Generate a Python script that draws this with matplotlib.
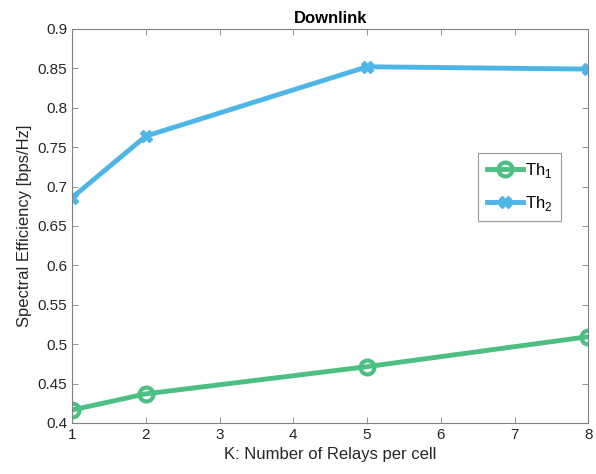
import matplotlib
matplotlib.use("Agg")
import matplotlib.pyplot as plt

K = [1, 2, 5, 8]
th1 = [0.4165, 0.437, 0.4715, 0.5095]
th2 = [0.686, 0.764, 0.852, 0.849]
labels = [r"Th$_1$", r"Th$_2$"]
xticks = [1, 2, 3, 4, 5, 6, 7, 8]
yticks = [0.4, 0.45, 0.5, 0.55, 0.6, 0.65, 0.7, 0.75, 0.8, 0.85, 0.9]

plt.rcParams['font.family'] = ['Liberation Sans', 'DejaVu Sans']
plt.rcParams['mathtext.fontset'] = 'custom'
plt.rcParams['mathtext.rm'] = 'Liberation Sans'

fig = plt.figure(figsize=(5.96, 4.74), dpi=100)
ax = fig.add_axes([0.121, 0.1076, 0.866, 0.8314])

green = '#4DBF82'
blue = '#4DB6E6'
ax.plot(K, th1, color=green, lw=3.5, marker='o', ms=10, mew=3, mfc='none', label=labels[0])
ax.plot(K, th2, color=blue, lw=3.5, marker='X', ms=9, mew=1, label=labels[1])

ax.set_xlim(1, 8)
ax.set_ylim(0.4, 0.9)
ax.set_xticks(xticks)
ax.set_yticks(yticks)
ax.set_yticklabels(['0.4', '0.45', '0.5', '0.55', '0.6', '0.65', '0.7', '0.75', '0.8', '0.85', '0.9'])
ax.tick_params(direction='in', top=True, right=True, colors='#262626', labelsize=11, length=4, width=0.6)
for s in ax.spines.values():
    s.set_color('#808080')
    s.set_linewidth(0.8)
ax.tick_params(axis='both', which='both', color='#808080')

ax.set_xlabel('K: Number of Relays per cell', fontsize=12, color='#262626')
ax.set_ylabel('Spectral Efficiency [bps/Hz]', fontsize=12, color='#262626')
ax.set_title('Downlink', fontsize=12, fontweight='bold', pad=4)

leg = ax.legend(loc='upper left', bbox_to_anchor=(0.787, 0.686), fontsize=12, frameon=True,
                fancybox=False, edgecolor='#808080', handlelength=2.2, borderpad=0.5,
                labelspacing=0.85, handletextpad=0.1, borderaxespad=0.0)
leg.get_frame().set_linewidth(0.8)

fig.savefig('out.png', dpi=100)
